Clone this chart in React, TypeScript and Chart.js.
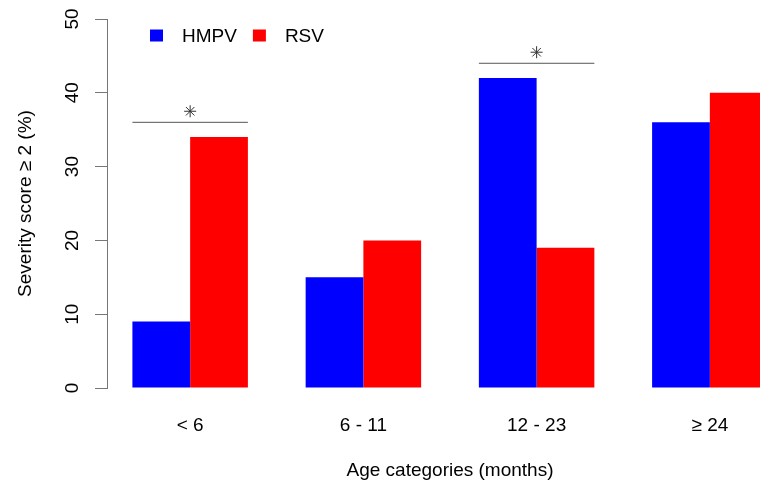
import React, { useEffect, useRef } from "react";
import { Chart, registerables } from "chart.js";

Chart.register(...registerables);

// ---- data ----
const ageCategories = ["< 6", "6 - 11", "12 - 23", "\u2265 24"];
const hmpvValues = [9, 15, 42, 36];
const rsvValues = [34, 20, 19, 40];
const yTickValues = [0, 10, 20, 30, 40, 50];
const seriesNames = ["HMPV", "RSV"];
const seriesColors = ["#0000FF", "#FF0000"];
const sigCategoryIndex = [0, 2];
const sigLineValues = [36, 44];
const sigStarValues = [37.5, 45.5];
const xTitle = "Age categories (months)";
const yTitle = "Severity score \u2265 2 (%)";

// R barplot-style coordinate layout (beside = TRUE, space = c(0, 1))
const groupCenter = (i: number) => 2 + 3 * i;
const X_MIN = 0.56;
const X_MAX = 12.44;

const FONT = "'Liberation Sans', Arial, Helvetica, sans-serif";

const legendPlugin = {
  id: "rLegend",
  afterDraw(chart: any) {
    const { ctx, chartArea } = chart;
    ctx.save();
    ctx.font = `19px ${FONT}`;
    ctx.textBaseline = "middle";
    ctx.textAlign = "left";
    let x = chartArea.left + 43;
    const cy = chartArea.top + 16.5;
    chart.data.datasets.forEach((ds: any) => {
      if (ds.type && ds.type !== "bar") return;
      if (!ds.label) return;
      ctx.fillStyle = ds.backgroundColor;
      ctx.fillRect(x, cy - 6, 13, 12);
      ctx.fillStyle = "#000";
      ctx.fillText(ds.label, x + 32, cy + 1);
      const w = ctx.measureText(ds.label).width;
      x += 32 + w + 16;
    });
    ctx.restore();
  },
};

export default function App() {
  const ref = useRef<HTMLCanvasElement | null>(null);

  useEffect(() => {
    if (!ref.current) return;
    Chart.defaults.font.family = FONT;

    const barSets = [hmpvValues, rsvValues].map((vals, s) => ({
      type: "bar" as const,
      label: seriesNames[s],
      data: vals.map((v, i) => ({ x: groupCenter(i), y: v })),
      backgroundColor: seriesColors[s],
      borderWidth: 0,
      categoryPercentage: 2 / 3,
      barPercentage: 1,
      order: 2,
    }));

    const sigLines = sigCategoryIndex.map((ci, k) => ({
      type: "line" as const,
      label: "",
      data: [
        { x: groupCenter(ci) - 1, y: sigLineValues[k] },
        { x: groupCenter(ci) + 1, y: sigLineValues[k] },
      ],
      borderColor: "#555555",
      borderWidth: 1,
      pointRadius: 0,
      fill: false,
      order: 1,
    }));

    const sigStars = {
      type: "scatter" as const,
      label: "",
      data: sigCategoryIndex.map((ci, k) => ({ x: groupCenter(ci), y: sigStarValues[k] })),
      pointStyle: "star",
      pointRadius: 6,
      borderColor: "#333333",
      backgroundColor: "#333333",
      borderWidth: 1,
      order: 0,
    };

    const chart = new Chart(ref.current, {
      type: "bar",
      data: { datasets: [...barSets, ...sigLines, sigStars] as any },
      plugins: [legendPlugin],
      options: {
        animation: false,
        responsive: false,
        devicePixelRatio: 1,
        layout: { padding: { top: 19, right: 4, bottom: 0, left: 0 } },
        plugins: {
          legend: { display: false },
          tooltip: { enabled: false },
        },
        scales: {
          x: {
            type: "linear",
            min: X_MIN,
            max: X_MAX,
            bounds: "data",
            offset: false,
            grid: { display: false, offset: false },
            border: { display: false },
            ticks: {
              autoSkip: false,
              maxRotation: 0,
              minRotation: 0,
              padding: 18,
              color: "#000",
              font: { size: 19, family: FONT },
              callback: (_v: any, i: number) => ageCategories[i],
            },
            afterBuildTicks: (scale: any) => {
              scale.ticks = ageCategories.map((_, i) => ({ value: groupCenter(i) }));
            },
            afterFit: (scale: any) => {
              scale.height = 94;
              scale.paddingLeft = 0;
              scale.paddingRight = 0;
            },
            title: {
              display: true,
              text: xTitle,
              color: "#000",
              font: { size: 19, family: FONT },
              padding: { top: 0, bottom: 0 },
            },
          },
          y: {
            type: "linear",
            min: 0,
            max: 50,
            grid: {
              display: true,
              drawOnChartArea: false,
              drawTicks: true,
              tickLength: 12,
              color: "#777777",
              lineWidth: 1,
            },
            border: { display: true, color: "#777777", width: 1 },
            ticks: {
              minRotation: 90,
              maxRotation: 90,
              crossAlign: "center",
              padding: 12,
              color: "#000",
              font: { size: 19, family: FONT },
            },
            afterBuildTicks: (scale: any) => {
              scale.ticks = yTickValues.map((v) => ({ value: v }));
            },
            afterFit: (scale: any) => {
              scale.width = 107;
              scale.paddingTop = 0;
              scale.paddingBottom = 0;
            },
            title: {
              display: true,
              text: yTitle,
              color: "#000",
              font: { size: 19, family: FONT },
              padding: { top: 14, bottom: 0 },
            },
          },
        },
      } as any,
    });

    return () => chart.destroy();
  }, []);

  return (
    <div
      style={{
        position: "fixed",
        left: 0,
        top: 0,
        width: 760,
        height: 482,
        overflow: "hidden",
        background: "#fff",
      }}
    >
      <canvas ref={ref} width={800} height={482} style={{ display: "block", width: 800, height: 482 }} />
    </div>
  );
}
